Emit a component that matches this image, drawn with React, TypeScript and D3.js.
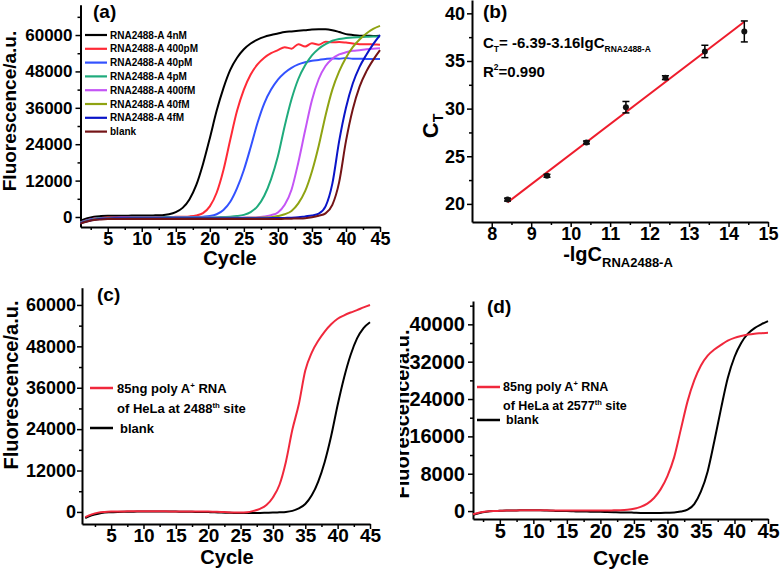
import React, { useEffect, useRef } from "react";
import * as d3 from "d3";

const FONT = "'Liberation Sans', Arial, sans-serif";

// PCR cycle numbers shared by every amplification panel
const cycles = d3.range(1, 46);

// panel (a): fluorescence (a.u.) per cycle for the RNA2488-A dilution series
const a4nM = [-1200, -400, 100, 300, 400, 400, 450, 450, 500, 500, 500, 550, 600, 900, 1600, 3000, 5800, 10500, 17500, 26000, 35000, 42500, 48500, 52500, 55300, 57200, 58500, 59400, 60000, 60500, 61000, 61200, 61400, 61600, 61800, 61900, 61900, 61600, 61000, 60300, 60000, 59800, 59800, 59700, 59800];
const a400pM = [-1800, -1000, -500, -300, -200, -150, -100, -100, -100, -100, -50, -50, 0, 0, 50, 100, 200, 500, 1300, 3500, 8000, 15500, 25500, 35000, 42000, 47000, 50300, 52500, 54000, 55000, 56000, 55500, 57000, 56200, 57300, 56800, 57800, 57600, 57700, 57500, 57200, 57000, 57000, 56900, 56800];
const a40pM = [-1800, -1100, -600, -400, -300, -250, -200, -200, -200, -150, -150, -150, -150, -100, -100, -100, -50, 0, 100, 300, 900, 2300, 5000, 9500, 15500, 23000, 31000, 37500, 42000, 45300, 47600, 49200, 50300, 51000, 51500, 51800, 52100, 52300, 52200, 52400, 52200, 52200, 52100, 52100, 52100];
const a4pM = [-1900, -1200, -700, -450, -350, -300, -300, -300, -250, -250, -250, -250, -200, -200, -200, -200, -150, -150, -150, -150, -100, 0, 100, 300, 700, 1600, 3500, 7000, 12500, 20000, 30000, 38800, 45500, 50000, 53300, 55500, 57000, 58100, 58700, 59000, 59200, 59300, 59400, 59500, 59500];
const a400fM = [-2000, -1300, -800, -500, -400, -350, -350, -300, -300, -300, -300, -300, -300, -300, -250, -250, -250, -250, -250, -250, -250, -250, -250, -250, -200, -200, -100, 200, 600, 1500, 4000, 9000, 18000, 28500, 38500, 45500, 49800, 52200, 53600, 54300, 54800, 55000, 55300, 55500, 55600];
const a40fM = [-2000, -1300, -800, -550, -450, -400, -400, -350, -350, -350, -350, -350, -350, -300, -300, -300, -300, -300, -300, -300, -300, -300, -300, -300, -300, -250, -250, -200, -100, 300, 900, 2000, 4500, 8500, 15000, 23500, 33500, 42000, 48000, 52500, 56000, 58500, 60500, 62000, 63000];
const a4fM = [-2000, -1400, -900, -600, -500, -450, -450, -400, -400, -400, -400, -400, -400, -400, -400, -400, -400, -400, -400, -400, -400, -400, -400, -400, -400, -400, -400, -400, -350, -350, -300, -250, -100, 200, 500, 1100, 3500, 11000, 25000, 36000, 44000, 49500, 53500, 57000, 60000];
const aBlank = [-2200, -1500, -1000, -800, -700, -700, -700, -700, -650, -650, -650, -650, -650, -650, -650, -650, -650, -650, -650, -700, -700, -700, -700, -700, -700, -700, -700, -700, -700, -650, -600, -550, -500, -400, -100, 400, 1200, 4000, 11500, 25000, 35500, 43000, 48000, 51800, 55000];

const seriesA = [a4nM, a400pM, a40pM, a4pM, a400fM, a40fM, a4fM, aBlank];
const labelsA = ["RNA2488-A 4nM", "RNA2488-A 400pM", "RNA2488-A 40pM", "RNA2488-A 4pM", "RNA2488-A 400fM", "RNA2488-A 40fM", "RNA2488-A 4fM", "blank"];
const colorsA = ["#000000", "#ff2a36", "#3352ff", "#1fab7c", "#c455f5", "#8fa312", "#0a14c8", "#741416"];

// panel (b): standard curve
const lgC = [8.4, 9.4, 10.4, 11.4, 12.4, 13.4, 14.4];
const ctMean = [20.45, 22.95, 26.45, 30.15, 33.25, 36.0, 38.1];
const ctErr = [0.15, 0.15, 0.15, 0.6, 0.2, 0.65, 1.1];
const fitIntercept = -6.39;
const fitSlope = 3.16;

// panel (c): HeLa poly A+ RNA, 2488th site
const cRed = [-1500, -700, -200, 0, 100, 150, 150, 200, 200, 200, 200, 200, 200, 150, 150, 150, 150, 100, 100, 100, 50, 0, -100, -150, -200, -100, 300, 900, 2000, 4200, 7800, 14500, 23800, 31200, 41000, 46200, 49600, 52300, 54400, 56000, 57000, 57800, 58500, 59300, 60000];
const cBlank = [-1800, -1000, -500, -200, -100, 0, 50, 50, 100, 100, 100, 100, 100, 100, 100, 50, 50, 0, 0, -50, -100, -200, -250, -300, -300, -300, -300, -300, -250, -200, -100, 0, 300, 1000, 2300, 4800, 8800, 14500, 22000, 31000, 39000, 45500, 50300, 53300, 55000];

// panel (d): HeLa poly A+ RNA, 2577th site
const dRed = [-700, -300, -100, 0, 50, 100, 100, 150, 150, 150, 150, 150, 100, 100, 100, 100, 100, 100, 100, 100, 100, 150, 200, 300, 500, 900, 1600, 2800, 4700, 7500, 11500, 17500, 23500, 28000, 31200, 33300, 34600, 35600, 36500, 37100, 37500, 37800, 38000, 38100, 38200];
const dBlank = [-800, -400, -150, 0, 50, 100, 100, 150, 150, 150, 150, 100, 50, 0, 0, -50, -100, -100, -150, -150, -200, -250, -300, -300, -350, -400, -400, -400, -400, -350, -300, -100, 300, 1500, 4200, 8500, 15000, 22000, 28500, 33000, 36000, 38000, 39200, 40000, 40700];

const RED = "#f0283c";

function styleText(sel: any, size: number) {
  return sel.attr("font-family", FONT).attr("font-weight", "bold").attr("font-size", size).attr("fill", "#000");
}

function drawAxes(g: any, cfg: any) {
  const x = d3.scaleLinear().domain(cfg.xDomain).range(cfg.xRange);
  const y = d3.scaleLinear().domain(cfg.yDomain).range(cfg.yRange);
  const left = cfg.xRange[0];
  const bottom = cfg.yRange[0];

  const minorY = g.append("g").attr("transform", `translate(${left},0)`)
    .call(d3.axisLeft(y).tickValues(cfg.yMinor).tickSize(3).tickFormat(() => ""));
  minorY.select(".domain").remove();
  const minorX = g.append("g").attr("transform", `translate(0,${bottom})`)
    .call(d3.axisBottom(x).tickValues(cfg.xMinor).tickSize(3).tickFormat(() => ""));
  minorX.select(".domain").remove();

  const gy = g.append("g").attr("transform", `translate(${left},0)`)
    .call(d3.axisLeft(y).tickValues(cfg.yMajor).tickSize(5).tickSizeOuter(0)
      .tickPadding(cfg.yPad).tickFormat(d3.format("d")));
  const gx = g.append("g").attr("transform", `translate(0,${bottom})`)
    .call(d3.axisBottom(x).tickValues(cfg.xMajor).tickSize(5).tickSizeOuter(0)
      .tickPadding(0).tickFormat(d3.format("d")));

  [minorX, minorY, gx, gy].forEach((a) => {
    a.selectAll(".tick line").attr("stroke", "#000").attr("stroke-width", 1.5);
  });
  [gx, gy].forEach((a) => {
    a.select(".domain").attr("stroke", "#000").attr("stroke-width", 2);
  });
  styleText(gy.selectAll("text"), cfg.yFont);
  styleText(gx.selectAll("text"), cfg.xFont);

  return { x, y };
}

function drawCurves(g: any, x: any, y: any, series: number[][], colors: string[]) {
  const line = d3.line<number>()
    .x((_, i) => x(cycles[i]))
    .y((d) => y(d))
    .curve(d3.curveMonotoneX);
  series.forEach((s, i) => {
    g.append("path")
      .attr("d", line(s))
      .attr("fill", "none")
      .attr("stroke", colors[i])
      .attr("stroke-width", 2);
  });
}

function drawPanelA(svg: any) {
  const g = svg.append("g");
  const { x, y } = drawAxes(g, {
    xDomain: [1, 45], xRange: [80.5, 380],
    yDomain: [-3300, 70000], yRange: [227, 4.7],
    xMajor: d3.range(5, 46, 5), xMinor: d3.range(2.5, 45, 5),
    yMajor: d3.range(0, 60001, 12000), yMinor: d3.range(6000, 70000, 12000),
    yPad: 3, yFont: 17, xFont: 18
  });

  drawCurves(g, x, y, seriesA, colorsA);

  labelsA.forEach((lab, i) => {
    const ly = 35 + i * 13.8;
    g.append("line").attr("x1", 85).attr("x2", 107).attr("y1", ly).attr("y2", ly)
      .attr("stroke", colorsA[i]).attr("stroke-width", 2.2);
    styleText(g.append("text").attr("x", 110).attr("y", ly).attr("dy", "0.35em"), 10).text(lab);
  });

  styleText(g.append("text").attr("x", 93).attr("y", 18), 19).text("(a)");
  styleText(g.append("text").attr("transform", "translate(16,111) rotate(-90)").attr("text-anchor", "middle"), 19)
    .text("Fluorescence/a.u.");
  styleText(g.append("text").attr("x", 230).attr("y", 265).attr("text-anchor", "middle"), 20).text("Cycle");
}

function drawPanelB(svg: any) {
  const g = svg.append("g");
  const { x, y } = drawAxes(g, {
    xDomain: [7.5, 15], xRange: [472, 768],
    yDomain: [18.1, 41.4], yRange: [222, 0],
    xMajor: d3.range(8, 16, 1), xMinor: d3.range(8.5, 15, 1),
    yMajor: d3.range(20, 41, 5), yMinor: d3.range(22.5, 40, 5),
    yPad: 2, yFont: 18, xFont: 18
  });

  const x0 = lgC[0];
  const x1 = lgC[lgC.length - 1];
  g.append("line")
    .attr("x1", x(x0)).attr("y1", y(fitIntercept + fitSlope * x0))
    .attr("x2", x(x1)).attr("y2", y(fitIntercept + fitSlope * x1))
    .attr("stroke", "#ee1c2c").attr("stroke-width", 2);

  lgC.forEach((v, i) => {
    const cx = x(v);
    const top = y(ctMean[i] + ctErr[i]);
    const bot = y(ctMean[i] - ctErr[i]);
    g.append("line").attr("x1", cx).attr("x2", cx).attr("y1", top).attr("y2", bot)
      .attr("stroke", "#000").attr("stroke-width", 1.5);
    [top, bot].forEach((yy) => {
      g.append("line").attr("x1", cx - 3.5).attr("x2", cx + 3.5).attr("y1", yy).attr("y2", yy)
        .attr("stroke", "#000").attr("stroke-width", 1.5);
    });
    g.append("circle").attr("cx", cx).attr("cy", y(ctMean[i])).attr("r", 3).attr("fill", "#111");
  });

  styleText(g.append("text").attr("x", 483).attr("y", 18), 19).text("(b)");

  const eq = styleText(g.append("text").attr("x", 483).attr("y", 48), 15);
  eq.append("tspan").text("C");
  eq.append("tspan").attr("font-size", 8.5).attr("dy", 4).text("T");
  eq.append("tspan").attr("dy", -4).text("= -6.39-3.16lgC");
  eq.append("tspan").attr("font-size", 8.5).attr("dy", 4).text("RNA2488-A");

  const r2 = styleText(g.append("text").attr("x", 483).attr("y", 77), 15);
  r2.append("tspan").text("R");
  r2.append("tspan").attr("font-size", 8.5).attr("dy", -7).text("2");
  r2.append("tspan").attr("dy", 7).text("=0.990");

  const yt = styleText(g.append("text").attr("transform", "translate(438,126) rotate(-90)").attr("text-anchor", "middle"), 22);
  yt.append("tspan").text("C");
  yt.append("tspan").attr("font-size", 14).attr("dy", 5).text("T");

  const xt = styleText(g.append("text").attr("x", 618).attr("y", 261).attr("text-anchor", "middle"), 20);
  xt.append("tspan").text("-lgC");
  xt.append("tspan").attr("font-size", 13).attr("dy", 6).text("RNA2488-A");
}

function drawLegendCD(g: any, lx: number, tx: number, ys: number[], site: string, size: number) {
  g.append("line").attr("x1", lx).attr("x2", lx + 23).attr("y1", ys[0]).attr("y2", ys[0])
    .attr("stroke", RED).attr("stroke-width", 2.5);
  const t1 = styleText(g.append("text").attr("x", tx).attr("y", ys[0]).attr("dy", "0.35em"), size);
  t1.append("tspan").text("85ng poly A");
  t1.append("tspan").attr("font-size", size * 0.6).attr("dy", -5).text("+");
  t1.append("tspan").attr("dy", 5).text(" RNA");
  const t2 = styleText(g.append("text").attr("x", tx).attr("y", ys[1]).attr("dy", "0.35em"), size);
  t2.append("tspan").text(`of HeLa at ${site}`);
  t2.append("tspan").attr("font-size", size * 0.6).attr("dy", -5).text("th");
  t2.append("tspan").attr("dy", 5).text(" site");
  g.append("line").attr("x1", lx).attr("x2", lx + 23).attr("y1", ys[2]).attr("y2", ys[2])
    .attr("stroke", "#000").attr("stroke-width", 2.5);
  styleText(g.append("text").attr("x", tx + 3).attr("y", ys[2]).attr("dy", "0.35em"), size).text("blank");
}

function drawPanelC(svg: any) {
  const g = svg.append("g");
  const { x, y } = drawAxes(g, {
    xDomain: [0.5, 45], xRange: [82, 370],
    yDomain: [-3500, 65000], yRange: [524, 287.7],
    xMajor: d3.range(5, 46, 5), xMinor: d3.range(2.5, 45, 5),
    yMajor: d3.range(0, 60001, 12000), yMinor: d3.range(6000, 65000, 12000),
    yPad: 1, yFont: 18, xFont: 19
  });
  drawCurves(g, x, y, [cBlank, cRed], ["#000", RED]);
  drawLegendCD(g, 90, 117, [388, 408, 428], "2488", 13);

  styleText(g.append("text").attr("x", 97).attr("y", 301), 19).text("(c)");
  styleText(g.append("text").attr("transform", "translate(18,385) rotate(-90)").attr("text-anchor", "middle"), 20)
    .text("Fluorescence/a.u.");
  styleText(g.append("text").attr("x", 227).attr("y", 564).attr("text-anchor", "middle"), 20).text("Cycle");
}

function drawPanelD(svg: any) {
  svg.append("defs").append("clipPath").attr("id", "clipD")
    .append("rect").attr("x", 400).attr("y", 280).attr("width", 382).attr("height", 292);
  const g = svg.append("g").attr("clip-path", "url(#clipD)");
  const { x, y } = drawAxes(g, {
    xDomain: [1, 45], xRange: [473, 768],
    yDomain: [-1700, 45000], yRange: [519, 301],
    xMajor: d3.range(5, 46, 5), xMinor: d3.range(2.5, 45, 5),
    yMajor: d3.range(0, 40001, 8000), yMinor: d3.range(4000, 45000, 8000),
    yPad: 3, yFont: 20, xFont: 20
  });
  drawCurves(g, x, y, [dBlank, dRed], ["#000", RED]);
  drawLegendCD(g, 477, 503, [387, 406, 420], "2577", 12.5);

  styleText(g.append("text").attr("x", 487).attr("y", 313), 19).text("(d)");
  styleText(g.append("text").attr("transform", "translate(409,414) rotate(-90)").attr("text-anchor", "middle"), 20)
    .text("Fluorescence/a.u.");
  styleText(g.append("text").attr("x", 621).attr("y", 565).attr("text-anchor", "middle"), 21).text("Cycle");
}

export default function App() {
  const ref = useRef<SVGSVGElement>(null);

  useEffect(() => {
    const svg = d3.select(ref.current);
    svg.selectAll("*").remove();
    drawPanelA(svg);
    drawPanelB(svg);
    drawPanelC(svg);
    drawPanelD(svg);
  }, []);

  return (
    <svg
      ref={ref}
      width={782}
      height={572}
      style={{ position: "absolute", left: 0, top: 0, background: "#fff" }}
    />
  );
}
